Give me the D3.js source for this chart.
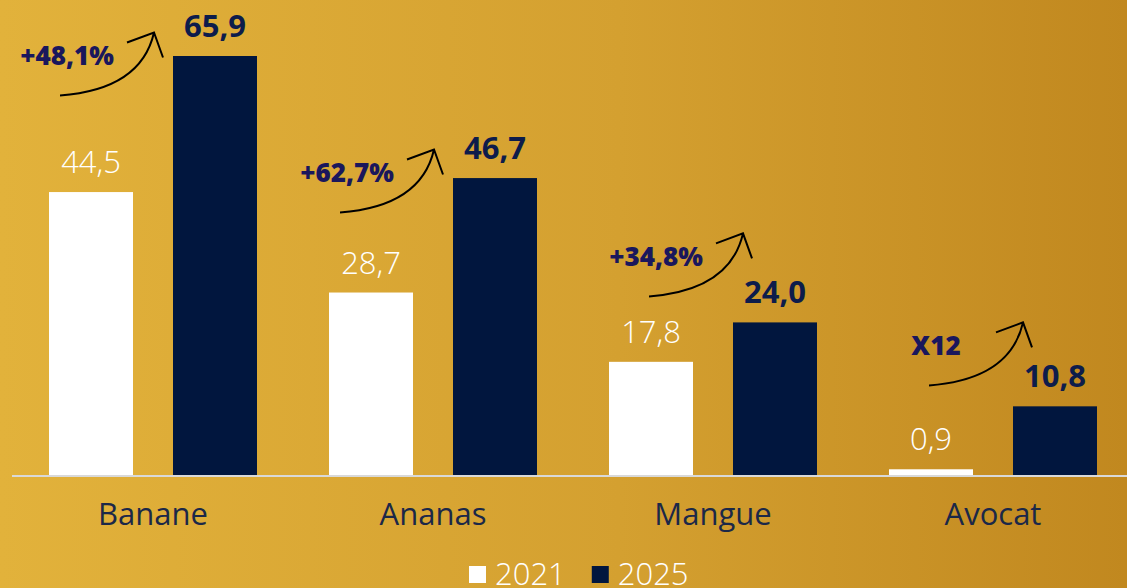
<html>
<meta charset="utf-8" />
<head>
<title>Fruits</title>
<style>
body { margin: 0; overflow: hidden; }
svg { display: block; }
svg text { font-family: "Open Sans", sans-serif; }
</style>
<script src="https://d3js.org/d3.v7.min.js" charset="utf-8"></script>
</head>
<body>
<svg class="chart"></svg>

<script>
var chartWidth = 1127;
var chartHeight = 588;

/********
 * Data *
 ********/

var categories = ["Banane", "Ananas", "Mangue", "Avocat"];
var series = ["2021", "2025"];
var values2021 = [44.5, 28.7, 17.8, 0.9];
var values2025 = [65.9, 46.7, 24.0, 10.8];
var growthLabels = ["+48,1%", "+62,7%", "+34,8%", "X12"];

// arrow tip placement for each growth note (value on the y scale)
var growthTipValues = [69.6, 51.2, 38.0, 24.0];

/**********
 * Scales *
 **********/

var fmt = function(v) { return d3.format(".1f")(v).replace(".", ","); };

var x0 = d3.scaleBand()
    .domain(categories)
    .range([13, 1133]);

var x1 = d3.scaleBand()
    .domain(series)
    .range([36, 244])
    .paddingInner(40 / 124);

var y = d3.scaleLinear()
    .domain([0, d3.max(values2025)])
    .range([475, 56]);

var fill = d3.scaleOrdinal()
    .domain(series)
    .range(["#ffffff", "#01163e"]);

var rows = categories.map(function(c, i) {
  return { cat: c, vals: [values2021[i], values2025[i]], growth: growthLabels[i], tip: growthTipValues[i] };
});

/**************
 * Make Chart *
 **************/

var svg = d3.select(".chart")
    .attr("width", chartWidth)
    .attr("height", chartHeight);

var defs = svg.append("defs");
var grad = defs.append("linearGradient")
    .attr("id", "bg")
    .attr("x1", "0%").attr("x2", "100%")
    .attr("y1", "0%").attr("y2", "0%");
grad.append("stop").attr("offset", "0%").attr("stop-color", "#e2b23b");
grad.append("stop").attr("offset", "55%").attr("stop-color", "#d4a030");
grad.append("stop").attr("offset", "100%").attr("stop-color", "#c1881f");

svg.append("rect")
    .attr("width", chartWidth)
    .attr("height", chartHeight)
    .attr("fill", "url(#bg)");

var groups = svg.selectAll(".group")
    .data(rows)
  .enter().append("g")
    .attr("class", "group")
    .attr("transform", function(d) { return "translate(" + x0(d.cat) + ",0)"; });

// bars
groups.selectAll("rect")
    .data(function(d) { return d.vals.map(function(v, j) { return { key: series[j], v: v }; }); })
  .enter().append("rect")
    .attr("x", function(d) { return x1(d.key); })
    .attr("y", function(d) { return y(d.v); })
    .attr("width", x1.bandwidth())
    .attr("height", function(d) { return y(0) - y(d.v); })
    .attr("fill", function(d) { return fill(d.key); });

// value labels
groups.selectAll(".val")
    .data(function(d) { return d.vals.map(function(v, j) { return { key: series[j], v: v }; }); })
  .enter().append("text")
    .attr("class", "val")
    .attr("x", function(d) { return x1(d.key) + x1.bandwidth() / 2; })
    .attr("y", function(d) { return y(d.v) - 19; })
    .attr("text-anchor", "middle")
    .style("font-size", "31px")
    .style("font-weight", function(d) { return d.key == "2021" ? 300 : 700; })
    .style("fill", function(d) { return d.key == "2021" ? "#ffffff" : "#0d1c4b"; })
    .text(function(d) { return fmt(d.v); });

// category labels
groups.append("text")
    .attr("x", x0.bandwidth() / 2)
    .attr("y", 525)
    .attr("text-anchor", "middle")
    .style("font-size", "31px")
    .style("fill", "#1b2848")
    .text(function(d) { return d.cat; });

// growth arrows
var arrow = groups.append("g")
    .attr("transform", function(d, i) {
      var tx = x1("2025") + (i < 2 ? -19 : 10);
      return "translate(" + tx + "," + y(d.tip) + ")";
    });

arrow.append("path")
    .attr("d", "M-94,63 Q-13,57 0,0 M-27,10 L0,0 L9,25")
    .attr("fill", "none")
    .attr("stroke", "#000")
    .attr("stroke-width", 2);

arrow.append("text")
    .attr("x", -87)
    .attr("y", 33)
    .attr("text-anchor", "middle")
    .style("font-size", "26px")
    .style("font-weight", 800)
    .style("fill", "#1a175c")
    .text(function(d) { return d.growth; });

// baseline
svg.append("line")
    .attr("x1", 12)
    .attr("x2", chartWidth)
    .attr("y1", y(0) + 1)
    .attr("y2", y(0) + 1)
    .attr("stroke", "#d9d9d9")
    .attr("stroke-width", 2);

/**********
 * Legend *
 **********/

var legend = svg.append("g").attr("class", "legend");
var lx = 469;
series.forEach(function(s) {
  legend.append("rect")
      .attr("x", lx)
      .attr("y", 566)
      .attr("width", 17)
      .attr("height", 17)
      .attr("fill", fill(s));
  var t = legend.append("text")
      .attr("x", lx + 26)
      .attr("y", 585)
      .style("font-size", "31px")
      .style("font-weight", 300)
      .style("fill", "#ffffff")
      .text(s);
  lx = lx + 26 + t.node().getComputedTextLength() + 26;
});
</script>
</body>
</html>
